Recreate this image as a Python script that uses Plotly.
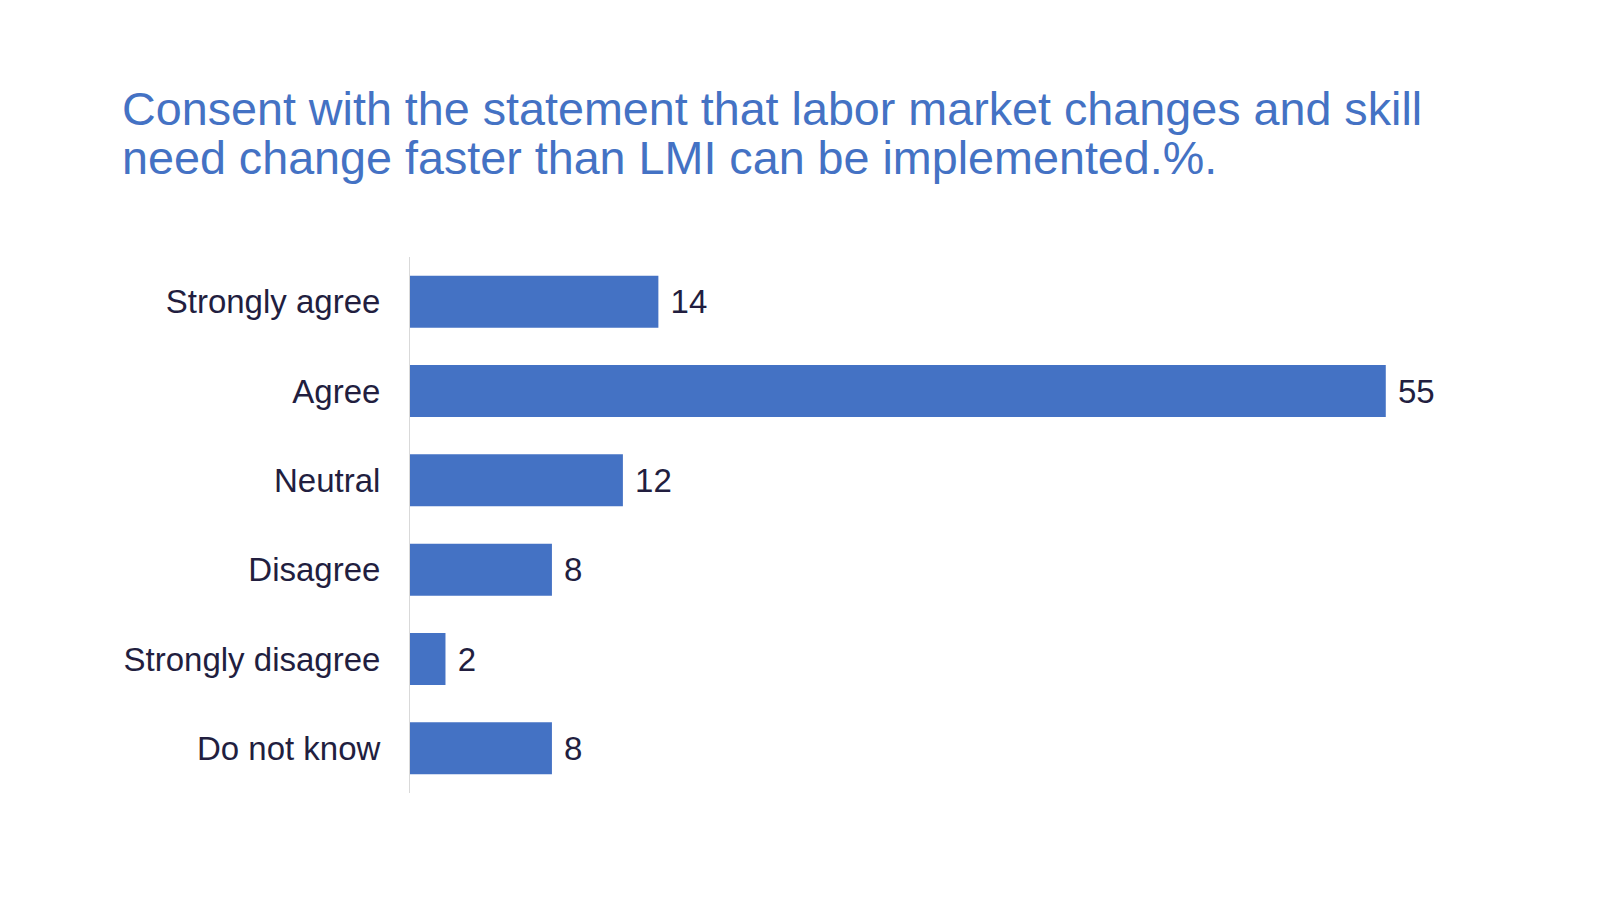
import plotly.graph_objects as go

categories = ["Strongly agree", "Agree", "Neutral", "Disagree", "Strongly disagree", "Do not know"]
values = [14, 55, 12, 8, 2, 8]
title_lines = [
    "Consent with the statement that labor market changes and skill",
    "need change faster than LMI can be implemented.%.",
]

BLUE = "#4472C4"
INK = "#221E3F"
FONT = "Liberation Sans, Arial, sans-serif"

# plot area size in px (used to place the title annotations)
PLOT_W = 1029
PLOT_H = 536
LEFT = 402

fig = go.Figure(
    go.Bar(
        x=values,
        y=categories,
        orientation="h",
        marker=dict(color=BLUE, line=dict(width=0)),
        text=values,
        texttemplate=" %{x}",
        textposition="outside",
        textfont=dict(family=FONT, size=33, color=INK),
        cliponaxis=False,
        hoverinfo="skip",
    )
)

fig.update_layout(
    width=1600,
    height=900,
    margin=dict(l=LEFT, r=1600 - LEFT - PLOT_W, t=249, b=900 - 249 - PLOT_H),
    paper_bgcolor="white",
    plot_bgcolor="white",
    bargap=0.418,
    showlegend=False,
    font=dict(family=FONT, color=INK),
)

fig.update_xaxes(range=[0, 58], visible=False, showgrid=False, zeroline=False)
fig.update_yaxes(
    autorange="reversed",
    showgrid=False,
    zeroline=False,
    showline=True,
    linecolor="#D9D9D9",
    linewidth=1,
    ticks="",
    ticklabelstandoff=22,
    tickfont=dict(family=FONT, size=33, color=INK),
)

# two title lines kept as separate annotations to get the tight line spacing
for i, line in enumerate(title_lines):
    fig.add_annotation(
        text=line,
        xref="paper", yref="paper",
        x=-290 / PLOT_W, y=(684 - 49 * i) / PLOT_H,
        xanchor="left", yanchor="middle",
        showarrow=False,
        font=dict(family=FONT, size=46.7, color=BLUE),
    )

fig.write_html("out.html")
